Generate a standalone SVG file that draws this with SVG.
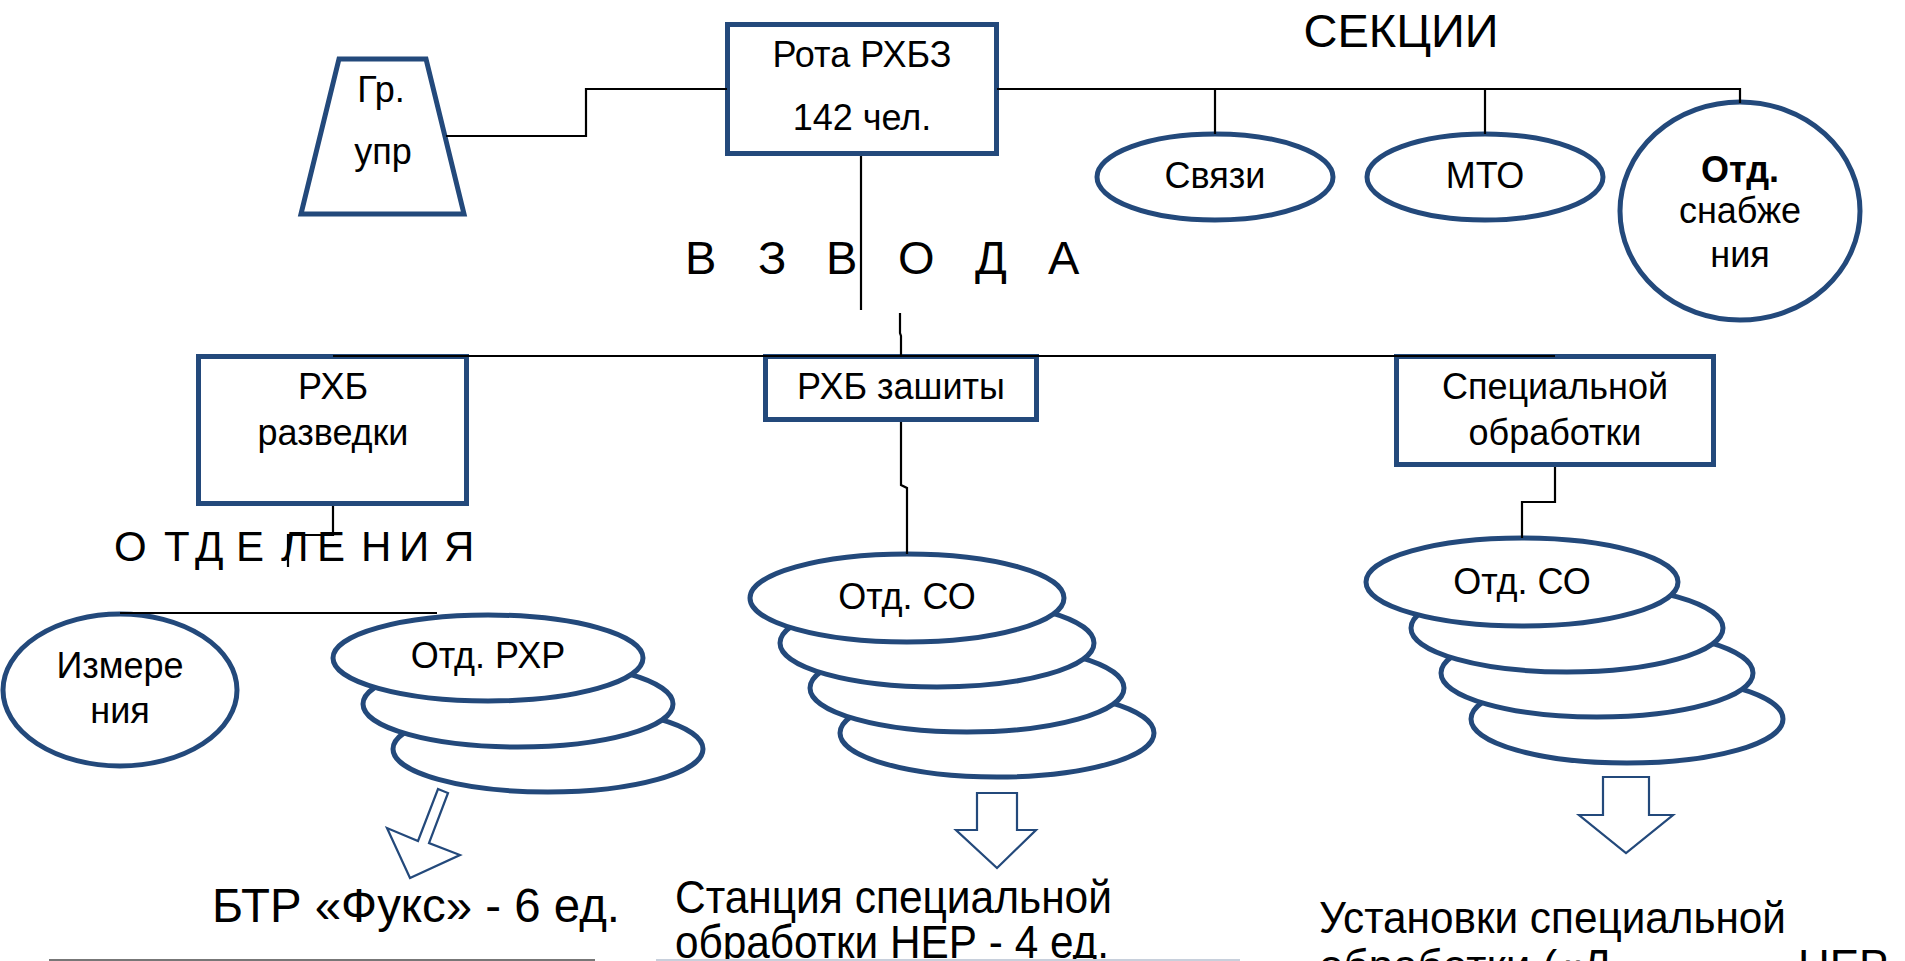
<svg xmlns="http://www.w3.org/2000/svg" width="1905" height="961" viewBox="0 0 1905 961">
<style>
  text { font-family: "Liberation Sans", Arial, sans-serif; fill: #000; }
  .n { fill: #fff; stroke: #23497B; stroke-width: 5; }
  .c { fill: none; stroke: #000; stroke-width: 2.2; }
  .ar { fill: #fff; stroke: #23497B; stroke-width: 2.2; stroke-linejoin: miter; }
  .t36 { font-size: 36px; text-anchor: middle; }
  .big { font-size: 48px; }
</style>
<rect width="1905" height="961" fill="#fff"/>

<!-- headings -->
<text x="1401" y="47" font-size="47" text-anchor="middle">СЕКЦИИ</text>
<text font-size="47" y="274" x="685 720 758 790 826 860 898 940 975 1015 1048">В З В О Д А</text>
<text font-size="42" y="561" x="114 147 164 185 195 225 236 265 281 307 317 350 361 392 399 432 444">О Т Д Е Л Е Н И Я</text>

<!-- nodes -->
<g id="gr-upr">
  <polygon class="n" points="339,59 426,59 464,214 301,214"/>
  <text class="t36" x="381" y="102">Гр.</text>
  <text class="t36" x="383" y="164">упр</text>
</g>
<g id="rota">
  <rect class="n" x="727.5" y="24.5" width="269" height="129"/>
  <text class="t36" x="862" y="67">Рота РХБЗ</text>
  <text class="t36" x="862" y="130">142 чел.</text>
</g>
<g id="svyazi">
  <ellipse class="n" cx="1215" cy="177" rx="118" ry="43"/>
  <text class="t36" x="1215" y="188">Связи</text>
</g>
<g id="mto">
  <ellipse class="n" cx="1485" cy="177" rx="118" ry="43"/>
  <text class="t36" x="1485" y="188">МТО</text>
</g>
<g id="snabzh">
  <ellipse class="n" cx="1740" cy="211" rx="120" ry="109"/>
  <text class="t36" x="1740" y="182" font-weight="bold">Отд.</text>
  <text class="t36" x="1740" y="223">снабже</text>
  <text class="t36" x="1740" y="267">ния</text>
</g>
<g id="rxb-razvedki">
  <rect class="n" x="198.5" y="356.5" width="268" height="147"/>
  <text class="t36" x="333" y="399">РХБ</text>
  <text class="t36" x="333" y="445">разведки</text>
</g>
<g id="rxb-zashity">
  <rect class="n" x="765.5" y="356.5" width="271" height="63"/>
  <text class="t36" x="901" y="399">РХБ зашиты</text>
</g>
<g id="spec-obr">
  <rect class="n" x="1396.5" y="356.5" width="317" height="108"/>
  <text class="t36" x="1555" y="399">Специальной</text>
  <text class="t36" x="1555" y="445">обработки</text>
</g>
<g id="izmerenia">
  <ellipse class="n" cx="120" cy="690" rx="117" ry="76"/>
  <text class="t36" x="120" y="678">Измере</text>
  <text class="t36" x="120" y="723">ния</text>
</g>
<g id="otd-rxr">
  <ellipse class="n" cx="548" cy="749" rx="155" ry="43"/>
  <ellipse class="n" cx="518" cy="704" rx="155" ry="43"/>
  <ellipse class="n" cx="488" cy="658" rx="155" ry="43"/>
  <text class="t36" x="488" y="668">Отд. РХР</text>
</g>
<g id="otd-so-1">
  <ellipse class="n" cx="997" cy="733" rx="157" ry="44"/>
  <ellipse class="n" cx="967" cy="688" rx="157" ry="44"/>
  <ellipse class="n" cx="937" cy="643" rx="157" ry="44"/>
  <ellipse class="n" cx="907" cy="598" rx="157" ry="44"/>
  <text class="t36" x="907" y="609">Отд. СО</text>
</g>
<g id="otd-so-2">
  <ellipse class="n" cx="1627" cy="719" rx="156" ry="44"/>
  <ellipse class="n" cx="1597" cy="673" rx="156" ry="44"/>
  <ellipse class="n" cx="1567" cy="628" rx="156" ry="44"/>
  <ellipse class="n" cx="1522" cy="582" rx="156" ry="44"/>
  <text class="t36" x="1522" y="594">Отд. СО</text>
</g>

<!-- connectors -->
<g id="connectors">
  <path class="c" d="M446 136 H586 V89 H727"/>
  <path class="c" d="M997 89 H1740 V103"/>
  <path class="c" d="M1215 89 V134"/>
  <path class="c" d="M1485 89 V134"/>
  <path class="c" d="M861 156 V310"/>
  <path class="c" d="M900 313 V333 L901 336 V356"/>
  <path class="c" d="M333 356 H1555"/>
  <path class="c" d="M333 506 V535 H288 V567"/>
  <path class="c" d="M120 613 H437"/>
  <path class="c" d="M901 422 V485 L907 488 V554"/>
  <path class="c" d="M1555 467 V502 H1522 V538"/>
</g>

<!-- result arrows -->
<g id="arrow-1">
  <polygon class="ar" points="438,789 448,793 429,843 460,855 410,878 387,828 418,841"/>
</g>
<g id="arrow-2">
  <polygon class="ar" points="977,793 1017,793 1017,830 1036,830 997,868 956,830 977,830"/>
</g>
<g id="arrow-3">
  <polygon class="ar" points="1603,777 1649,777 1649,815 1673,815 1626,853 1579,815 1603,815"/>
</g>

<g id="result-texts">
  <text class="big" x="212" y="922" textLength="408" lengthAdjust="spacingAndGlyphs">БТР «Фукс» - 6 ед.</text>
  <text font-size="46" x="675" y="913" textLength="437" lengthAdjust="spacingAndGlyphs">Станция специальной</text>
  <text font-size="46" x="675" y="958" textLength="434" lengthAdjust="spacingAndGlyphs">обработки НЕР - 4 ед.</text>
  <text font-size="44" x="1319" y="933" textLength="467" lengthAdjust="spacingAndGlyphs">Установки специальной</text>
  <text font-size="44" x="1319" y="981">обработки («Д<tspan x="1798">НЕР</tspan></text>
</g>

<!-- bottom edge lines -->
<line x1="49" y1="960" x2="595" y2="960" stroke="#777" stroke-width="2"/>
<line x1="656" y1="960" x2="1240" y2="960" stroke="#c8d0dc" stroke-width="2"/>
</svg>
